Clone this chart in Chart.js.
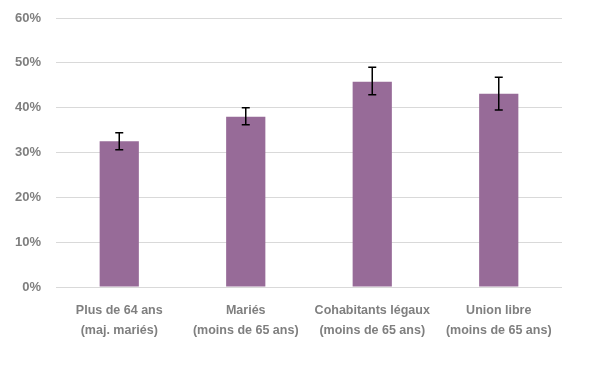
<!DOCTYPE html>
<html>
<head>
<meta charset="utf-8">
<script src="https://cdn.jsdelivr.net/npm/chart.js@4/dist/chart.umd.min.js"></script>
<style>
    html, body { margin: 0; padding: 0; background: #fff; }
    #wrap { width: 600px; height: 376px; }
</style>
</head>
<body>
<div id="wrap"><canvas id="chart"></canvas></div>
<script>
const categories = [
    ['Plus de 64 ans', '(maj. mariés)'],
    ['Mariés', '(moins de 65 ans)'],
    ['Cohabitants légaux', '(moins de 65 ans)'],
    ['Union libre', '(moins de 65 ans)']
];
const values = [32.5, 38.0, 45.8, 43.1];
const errLow = [30.6, 36.2, 42.9, 39.5];
const errHigh = [34.4, 40.0, 49.0, 46.8];
const yTicks = [0, 10, 20, 30, 40, 50, 60];

const labelFont = { family: '"Liberation Sans", Arial, sans-serif', size: 12.5, weight: 'bold', lineHeight: 1.6 };

// draws the error bars on top of the bars
const errorBars = {
    id: 'errorBars',
    afterDatasetsDraw(chart) {
        const ctx = chart.ctx;
        const meta = chart.getDatasetMeta(0);
        const y = chart.scales.y;
        ctx.save();
        ctx.strokeStyle = '#000';
        ctx.lineWidth = 1.5;
        meta.data.forEach((bar, i) => {
            const x = bar.x;
            const top = y.getPixelForValue(errHigh[i]);
            const bottom = y.getPixelForValue(errLow[i]);
            ctx.beginPath();
            ctx.moveTo(x, top);
            ctx.lineTo(x, bottom);
            ctx.moveTo(x - 4, top);
            ctx.lineTo(x + 4, top);
            ctx.moveTo(x - 4, bottom);
            ctx.lineTo(x + 4, bottom);
            ctx.stroke();
        });
        ctx.restore();
    }
};

new Chart(document.getElementById('chart'), {
    type: 'bar',
    data: {
        labels: categories,
        datasets: [{
            data: values,
            backgroundColor: '#976b98',
            borderWidth: 0,
            categoryPercentage: 1,
            barPercentage: 0.31
        }]
    },
    options: {
        responsive: true,
        maintainAspectRatio: false,
        animation: false,
        layout: { padding: { top: 18, right: 38, bottom: 0, left: 0 } },
        plugins: {
            legend: { display: false },
            tooltip: { enabled: false }
        },
        scales: {
            x: {
                grid: { display: false },
                border: { display: false },
                ticks: {
                    color: '#7f7f7f',
                    font: labelFont,
                    padding: 6,
                    maxRotation: 0,
                    autoSkip: false
                },
                afterFit(scale) {
                    scale.height = 89;
                    scale.paddingLeft = 0;
                    scale.paddingRight = 0;
                }
            },
            y: {
                min: 0,
                max: 60,
                afterBuildTicks(scale) {
                    scale.ticks = yTicks.map(v => ({ value: v }));
                },
                grid: { color: '#d9d9d9', lineWidth: 1, drawTicks: false },
                border: { display: false },
                ticks: {
                    color: '#7f7f7f',
                    font: { family: '"Liberation Sans", Arial, sans-serif', size: 13, weight: 'bold' },
                    padding: 15,
                    callback: v => v + '%'
                },
                afterFit(scale) {
                    scale.width = 56;
                    scale.paddingTop = 0;
                    scale.paddingBottom = 0;
                }
            }
        }
    },
    plugins: [errorBars]
});
</script>
</body>
</html>
